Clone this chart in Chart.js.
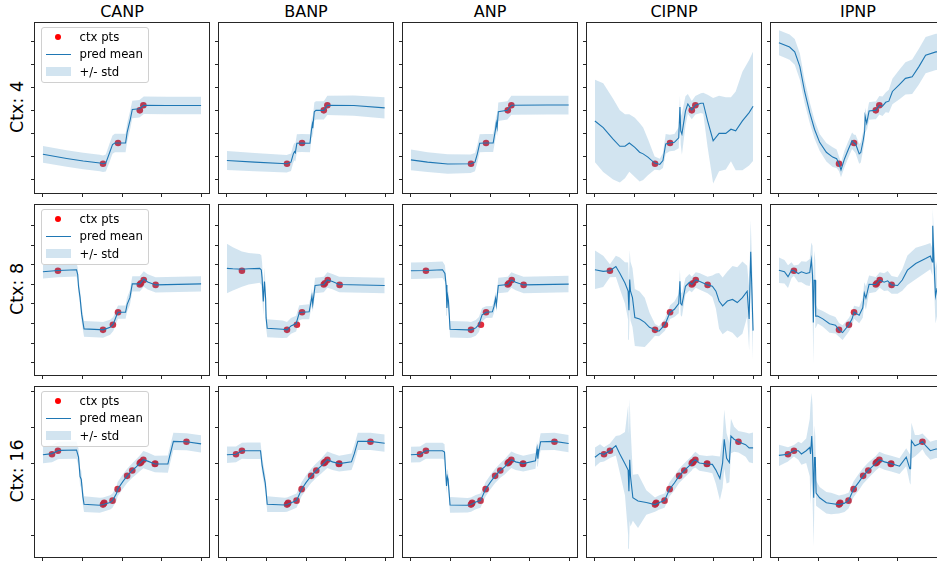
<!DOCTYPE html>
<html>
<head>
<meta charset="utf-8">
<script src="https://cdn.jsdelivr.net/npm/chart.js@4.4.1/dist/chart.umd.min.js"></script>
<style>
  body { margin: 0; width: 937px; height: 561px; overflow: hidden; background: #fff; position: relative; font-family: "DejaVu Sans", sans-serif; }
  canvas { position: absolute; }
  .title { position: absolute; width: 174px; text-align: center; font-size: 16px; line-height: 16px; color: #000; }
  .rowlab { position: absolute; font-size: 17.5px; line-height: 17.5px; white-space: nowrap; color: #000; transform: translate(-50%, -50%) rotate(-90deg); }
  .legend { position: absolute; width: 106px; height: 54px; border: 1px solid #d0d0d0; border-radius: 3px; background: rgba(255,255,255,0.8); font-size: 11.7px; line-height: 12px; }
  .legend span { position: absolute; }
</style>
</head>
<body>
<script>
// column titles, row labels, ticks
const models = ['CANP', 'BANP', 'ANP', 'CIPNP', 'IPNP'];
const rowNames = ['Ctx: 4', 'Ctx: 8', 'Ctx: 16'];
const xTicks = [-2, -1, 0, 1, 2];
const yTicks4 = [-3, -2, -1, 0, 1, 2, 3];
const yTicks8 = [-3, -2, -1, 0, 1, 2, 3, 4];
const yTicks16 = [-2, -1, 0, 1, 2];

// context points per row
const ctx4X = [-0.48, -0.10, 0.45, 0.54];
const ctx4Y = [-2.33, -1.43, -0.01, 0.21];
const ctx8X = [-1.62, -0.48, -0.23, -0.10, 0.45, 0.48, 0.55, 0.85];
const ctx8Y = [1.69, -1.32, -1.06, -0.42, 0.99, 1.05, 1.22, 0.97];
const ctx16X = [-1.77, -1.62, -0.48, -0.46, -0.45, -0.24, -0.11, 0.13, 0.26, 0.45, 0.47, 0.49, 0.54, 0.83, 0.84, 1.63];
const ctx16Y = [0.25, 0.35, -1.15, -1.12, -1.10, -1.04, -0.72, -0.35, -0.20, 0.0, 0.02, 0.04, 0.10, -0.02, -0.01, 0.60];

// predictions: [x, mean, std]
const canp4 = [[-2.0,-1.92,.36],[-1.4,-2.10,.36],[-0.98,-2.21,.36],[-0.56,-2.30,.36],[-0.48,-2.33,.36],[-0.41,-2.30,.37],[-0.31,-1.83,.4],[-0.24,-1.50,.4],[-0.18,-1.43,.4],[0.09,-1.43,.4],[0.13,-0.97,.4],[0.18,-0.61,.4],[0.21,-0.40,.4],[0.26,0.03,.38],[0.44,0.06,.38],[0.55,0.21,.38],[1.12,0.20,.38],[2.0,0.20,.38]];
const banp4 = [[-2.0,-2.19,.41],[-1.3,-2.26,.4],[-0.49,-2.33,.38],[-0.38,-2.26,.38],[-0.32,-1.90,.38],[-0.29,-1.80,.38],[-0.27,-1.85,.38],[-0.23,-1.44,.39],[-0.11,-1.43,.39],[0.10,-1.44,.39],[0.14,-0.83,.39],[0.16,-0.62,.39],[0.17,-0.78,.39],[0.21,-0.07,.4],[0.25,-0.01,.4],[0.45,-0.01,.4],[0.54,0.21,.42],[1.21,0.20,.44],[1.99,0.10,.46]];
const anp4 = [[-2.0,-2.16,.45],[-1.58,-2.26,.43],[-1.07,-2.34,.42],[-0.49,-2.33,.4],[-0.38,-2.26,.4],[-0.32,-1.90,.39],[-0.26,-1.44,.39],[-0.11,-1.43,.39],[0.08,-1.43,.39],[0.14,-0.83,.39],[0.16,-0.55,.39],[0.18,-0.75,.39],[0.21,-0.07,.4],[0.44,-0.01,.4],[0.54,0.21,.41],[1.44,0.22,.41],[1.99,0.22,.41]];
const cipnp4 = [[-2.0,-0.47,1.79],[-1.79,-0.76,1.93],[-1.54,-1.26,1.75],[-1.37,-1.57,1.57],[-1.24,-1.57,1.39],[-1.13,-1.43,1.25],[-0.99,-1.62,1.29],[-0.87,-1.83,1.27],[-0.78,-1.90,1.14],[-0.66,-2.04,0.79],[-0.49,-2.30,0.29],[-0.36,-2.36,0.25],[-0.28,-2.19,0.32],[-0.21,-1.47,0.43],[-0.11,-1.43,0.36],[0.01,-1.40,0.36],[0.12,-1.20,0.46],[0.15,0.13,0.5],[0.17,-0.9,0.6],[0.20,-1.04,0.9],[0.29,-0.04,0.64],[0.35,0.27,0.43],[0.45,0.0,0.4],[0.54,0.21,0.4],[0.68,0.30,0.43],[0.74,0.30,0.46],[0.85,-0.47,1.14],[0.99,-1.33,1.86],[1.14,-1.01,1.64],[1.31,-1.01,1.57],[1.44,-0.83,1.39],[1.56,-0.90,1.71],[1.73,-0.47,2.14],[1.90,-0.11,2.29],[2.0,0.17,2.37]];
const ipnp4 = [[-2.0,2.93,.54],[-1.73,2.74,.55],[-1.60,2.53,.56],[-1.47,1.89,.57],[-1.35,0.81,.5],[-1.22,-0.11,.45],[-1.10,-0.83,.4],[-0.97,-1.40,.36],[-0.80,-1.83,.4],[-0.64,-2.04,.43],[-0.54,-2.11,.4],[-0.48,-2.33,.32],[-0.43,-2.60,.32],[-0.34,-2.11,.36],[-0.24,-1.69,.36],[-0.15,-1.33,.36],[-0.10,-1.43,.36],[-0.06,-1.47,.4],[0.03,-1.90,.43],[0.07,-1.84,.43],[0.13,-1.33,.4],[0.17,-0.90,.38],[0.18,-0.26,.36],[0.22,-0.56,.36],[0.28,-0.04,.38],[0.41,-0.01,.39],[0.45,-0.01,.39],[0.54,0.21,.4],[0.62,0.17,.42],[0.70,0.34,.43],[0.78,0.39,.5],[0.87,0.81,.55],[1.04,1.10,.64],[1.20,1.38,.7],[1.37,1.45,.75],[1.54,1.89,.78],[1.71,2.39,.79],[1.97,2.53,.79],[2.0,2.53,.79]];

const canp8 = [[-2.0,1.64,.34],[-1.62,1.70,.34],[-1.15,1.74,.34],[-1.12,1.5,.36],[-1.10,0.90,.38],[-1.06,0.32,.4],[-1.02,-0.52,.4],[-0.96,-1.27,.4],[-0.56,-1.31,.4],[-0.48,-1.32,.4],[-0.30,-1.19,.38],[-0.22,-1.02,.36],[-0.14,-0.60,.35],[-0.10,-0.42,.34],[0.09,-0.42,.34],[0.13,-0.02,.36],[0.20,0.32,.38],[0.26,1.02,.39],[0.45,1.02,.39],[0.55,1.27,.39],[0.65,1.12,.39],[0.85,0.97,.39],[2.0,1.02,.39]];
const banp8 = [[-2.0,1.81,1.26],[-1.85,1.79,1.1],[-1.62,1.77,0.9],[-1.45,1.79,0.8],[-1.17,1.81,0.73],[-1.13,1.73,0.75],[-1.11,1.31,0.8],[-1.08,0.13,0.7],[-1.05,1.14,0.7],[-1.02,0.23,0.6],[-1.01,-0.70,0.5],[-0.98,-1.24,0.46],[-0.59,-1.29,0.45],[-0.48,-1.32,0.4],[-0.38,-1.12,0.4],[-0.25,-1.0,0.4],[-0.17,-0.45,0.38],[-0.10,-0.42,0.36],[0.08,-0.40,0.38],[0.12,0.04,0.39],[0.15,0.39,0.39],[0.17,-0.02,0.39],[0.23,0.94,0.4],[0.45,0.99,0.39],[0.54,1.22,0.39],[0.67,1.14,0.39],[0.84,0.99,0.39],[1.99,0.94,0.39]];
const anp8 = [[-2.0,1.69,.42],[-1.63,1.70,.42],[-1.20,1.74,.42],[-1.14,1.55,.42],[-1.11,0.96,.42],[-1.09,-0.20,.4],[-1.07,0.40,.4],[-1.05,0.15,.42],[-1.01,-1.29,.42],[-0.57,-1.32,.42],[-0.48,-1.32,.4],[-0.36,-1.22,.4],[-0.28,-1.05,.38],[-0.20,-0.55,.34],[-0.10,-0.42,.3],[0.06,-0.40,.3],[0.10,-0.14,.32],[0.14,0.28,.35],[0.16,-0.05,.35],[0.21,0.94,.4],[0.45,0.99,.4],[0.54,1.22,.4],[0.65,1.11,.41],[0.85,0.97,.42],[1.99,1.01,.42]];
const cipnp8 = [[-2.0,1.74,0.98],[-1.79,1.66,0.8],[-1.62,1.69,0.33],[-1.47,1.91,0.54],[-1.37,1.56,0.8],[-1.24,1.07,1.05],[-1.16,0.65,1.46],[-1.14,-0.32,1.5],[-1.12,1.24,1.5],[-1.10,0.65,1.5],[-1.05,0.32,1.5],[-0.99,-0.69,1.45],[-0.87,-0.77,1.4],[-0.74,-0.94,1.26],[-0.62,-1.19,0.75],[-0.48,-1.32,0.3],[-0.38,-1.39,0.25],[-0.23,-1.06,0.3],[-0.10,-0.42,0.35],[0.01,-0.27,0.4],[0.12,0.02,0.5],[0.15,1.16,0.6],[0.17,0.02,0.6],[0.20,-0.05,0.6],[0.29,0.90,0.42],[0.39,1.10,0.42],[0.45,0.99,0.4],[0.55,1.22,0.4],[0.64,1.16,0.42],[0.85,0.97,0.42],[0.97,0.90,0.55],[1.06,0.65,0.9],[1.14,0.15,1.42],[1.23,-0.10,1.45],[1.35,0.15,1.5],[1.48,0.23,1.7],[1.60,0.07,1.8],[1.73,0.32,1.84],[1.85,0.65,1.3],[1.90,-0.77,1.6],[1.94,2.66,1.6],[2.0,-1.36,1.6]];
const ipnp8 = [[-2.0,1.72,0.65],[-1.86,1.64,0.6],[-1.77,1.39,0.58],[-1.68,1.72,0.4],[-1.62,1.69,0.27],[-1.51,1.55,0.45],[-1.43,1.64,0.54],[-1.31,1.55,0.6],[-1.22,1.60,0.69],[-1.18,2.23,0.9],[-1.15,1.47,1.5],[-1.13,-0.95,2.1],[-1.11,1.21,1.5],[-1.08,1.21,1.0],[-1.07,-0.62,0.6],[-1.02,-0.62,0.38],[-0.89,-0.76,0.4],[-0.72,-1.01,0.46],[-0.57,-1.08,0.42],[-0.48,-1.32,0.35],[-0.39,-1.46,0.38],[-0.23,-1.06,0.35],[-0.15,-0.76,0.35],[-0.10,-0.42,0.33],[0.03,-0.57,0.42],[0.12,-0.20,0.5],[0.16,0.55,0.55],[0.20,0.30,0.6],[0.28,1.0,0.45],[0.45,0.99,0.38],[0.55,1.22,0.4],[0.66,1.11,0.45],[0.75,1.18,0.5],[0.85,0.97,0.45],[1.0,0.94,0.42],[1.12,1.22,0.55],[1.25,1.72,0.75],[1.46,2.06,0.8],[1.71,2.31,0.71],[1.83,2.44,0.67],[1.88,2.14,0.7],[1.89,3.98,0.9],[1.92,2.2,1.2],[1.96,0.4,1.4],[2.0,0.8,1.4]];

const canp16 = [[-2.0,0.24,.24],[-1.77,0.27,.24],[-1.62,0.35,.24],[-1.57,0.36,.24],[-1.15,0.37,.24],[-1.10,0.17,.24],[-1.06,-0.37,.24],[-1.03,-0.45,.24],[-0.99,-0.92,.23],[-0.96,-1.14,.22],[-0.56,-1.17,.21],[-0.48,-1.15,.2],[-0.30,-1.09,.2],[-0.24,-1.04,.2],[-0.14,-0.84,.2],[-0.11,-0.72,.2],[0.02,-0.51,.2],[0.13,-0.35,.2],[0.26,-0.20,.2],[0.36,-0.10,.21],[0.45,0.0,.22],[0.54,0.10,.24],[0.65,0.06,.24],[0.83,-0.02,.23],[1.16,-0.02,.24],[1.20,0.17,.24],[1.30,0.61,.24],[1.63,0.60,.24],[2.0,0.54,.24]];
const banp16 = [[-2.0,0.24,.23],[-1.77,0.25,.22],[-1.62,0.35,.22],[-1.47,0.35,.23],[-1.15,0.35,.23],[-1.11,-0.05,.23],[-1.06,-0.37,.23],[-1.03,-0.55,.23],[-0.98,-1.14,.22],[-0.54,-1.16,.2],[-0.48,-1.15,.2],[-0.33,-1.08,.2],[-0.24,-1.04,.2],[-0.17,-0.87,.2],[-0.11,-0.72,.2],[0.0,-0.54,.2],[0.13,-0.35,.2],[0.26,-0.20,.2],[0.38,-0.08,.21],[0.45,0.0,.22],[0.54,0.10,.23],[0.67,0.04,.23],[0.84,-0.01,.22],[1.15,0.04,.23],[1.22,0.26,.24],[1.31,0.61,.24],[1.63,0.61,.24],[1.99,0.56,.24]];
const anp16 = [[-2.0,0.24,.22],[-1.77,0.25,.22],[-1.62,0.35,.22],[-1.20,0.35,.22],[-1.15,0.31,.22],[-1.13,-0.08,.22],[-1.10,-0.63,.22],[-1.08,-0.37,.22],[-1.06,-0.45,.22],[-1.01,-1.16,.22],[-0.57,-1.17,.2],[-0.48,-1.15,.2],[-0.36,-1.08,.2],[-0.24,-1.04,.2],[-0.11,-0.72,.2],[0.02,-0.51,.2],[0.13,-0.35,.2],[0.26,-0.20,.2],[0.37,-0.10,.21],[0.45,0.0,.22],[0.54,0.10,.23],[0.65,0.04,.23],[0.84,-0.01,.22],[1.15,0.07,.22],[1.19,0.40,.22],[1.21,0.13,.22],[1.23,0.32,.23],[1.28,0.60,.24],[1.63,0.61,.24],[1.99,0.55,.24]];
const cipnp16 = [[-2.0,0.17,.27],[-1.87,0.28,.25],[-1.77,0.25,.2],[-1.62,0.35,.2],[-1.47,0.49,.27],[-1.37,0.26,.52],[-1.24,-0.01,.88],[-1.16,-0.19,1.8],[-1.14,-0.78,1.6],[-1.12,0.10,1.7],[-1.10,-0.36,1.4],[-1.04,-0.96,0.64],[-0.91,-1.05,0.75],[-0.70,-1.09,0.34],[-0.48,-1.15,0.2],[-0.37,-1.09,0.2],[-0.24,-1.04,0.2],[-0.11,-0.72,0.2],[0.01,-0.55,0.2],[0.13,-0.35,0.2],[0.26,-0.20,0.2],[0.45,0.0,0.2],[0.47,0.04,0.2],[0.54,0.10,0.22],[0.64,0.01,0.22],[0.83,-0.02,0.22],[0.97,-0.03,0.25],[1.06,-0.19,0.39],[1.16,-0.42,0.61],[1.23,0.02,0.7],[1.27,0.67,0.82],[1.33,0.14,0.7],[1.40,0.02,0.55],[1.44,0.76,0.48],[1.52,0.67,0.35],[1.63,0.60,0.3],[1.81,0.52,0.34],[1.90,0.43,0.4],[2.0,0.43,0.43]];
const ipnp16 = [[-2.0,0.22,.3],[-1.77,0.25,.2],[-1.62,0.35,.16],[-1.51,0.35,.25],[-1.43,0.26,.3],[-1.31,0.35,.34],[-1.22,0.44,.8],[-1.20,0.26,1.4],[-1.17,0.76,1.2],[-1.15,0.3,1.3],[-1.12,-0.96,1.35],[-1.10,0.16,0.9],[-1.08,0.16,0.6],[-1.06,-0.83,0.35],[-0.97,-0.96,0.3],[-0.80,-1.10,0.3],[-0.68,-1.12,0.3],[-0.48,-1.15,0.25],[-0.34,-1.11,0.25],[-0.24,-1.04,0.22],[-0.11,-0.72,0.22],[0.03,-0.51,0.23],[0.13,-0.35,0.22],[0.26,-0.20,0.22],[0.45,0.0,0.2],[0.54,0.10,0.22],[0.67,0.04,0.22],[0.84,-0.01,0.22],[1.05,-0.08,0.22],[1.22,0.17,0.25],[1.31,-0.15,0.4],[1.33,-0.15,0.45],[1.35,0.63,0.5],[1.44,0.49,0.3],[1.54,0.54,0.25],[1.63,0.61,0.22],[1.71,0.49,0.25],[1.83,0.35,0.25],[1.97,0.40,0.25],[2.0,0.40,0.25]];

// row setup built from the arrays above
const rows = [
  { ctxX: ctx4X, ctxY: ctx4Y, yMin: -3.6, yMax: 3.785, yTicks: yTicks4, panels: [canp4, banp4, anp4, cipnp4, ipnp4] },
  { ctxX: ctx8X, ctxY: ctx8Y, yMin: -3.62, yMax: 5.04, yTicks: yTicks8, panels: [canp8, banp8, anp8, cipnp8, ipnp8] },
  { ctxX: ctx16X, ctxY: ctx16Y, yMin: -2.61, yMax: 2.125, yTicks: yTicks16, panels: [canp16, banp16, anp16, cipnp16, ipnp16] }
];

const BLUE = '#1f77b4';
const panelLefts = [35, 219, 403, 587, 771];
const panelTops = [21, 203, 385];
const PW = 174, PH = 172;

// box around the plot area, like matplotlib spines
const framePlugin = {
  id: 'frame',
  afterDraw(chart) {
    const a = chart.chartArea, c = chart.ctx;
    c.save();
    c.strokeStyle = '#262626';
    c.lineWidth = 1;
    c.strokeRect(a.left - 0.5, a.top - 0.5, a.right - a.left + 1, a.bottom - a.top + 1);
    c.restore();
  }
};

function tickAxis(min, max, values, isX) {
  return {
    type: 'linear',
    min: min,
    max: max,
    afterBuildTicks: s => { s.ticks = values.map(v => ({ value: v })); },
    afterFit: s => { if (isX) s.height = 10; else s.width = 10; },
    ticks: { display: false },
    grid: { drawOnChartArea: false, drawTicks: true, tickLength: 4, color: '#262626', lineWidth: 1 },
    border: { display: false }
  };
}

function addText(cls, text, left, top) {
  const d = document.createElement('div');
  d.className = cls;
  d.textContent = text;
  d.style.left = left + 'px';
  d.style.top = top + 'px';
  document.body.appendChild(d);
}

function addLegend(left, top) {
  const box = document.createElement('div');
  box.className = 'legend';
  box.style.left = left + 'px';
  box.style.top = top + 'px';
  box.innerHTML =
    '<span style="left:12.5px;top:5.5px;width:6.6px;height:6.6px;border-radius:50%;background:#f00"></span>' +
    '<span style="left:37.5px;top:3px">ctx pts</span>' +
    '<span style="left:4px;top:25.5px;width:24.5px;height:1.2px;background:' + BLUE + '"></span>' +
    '<span style="left:37.5px;top:20.3px">pred mean</span>' +
    '<span style="left:4px;top:38.5px;width:24.5px;height:9.3px;background:rgba(31,119,180,0.2)"></span>' +
    '<span style="left:37.5px;top:37.6px">+/- std</span>';
  document.body.appendChild(box);
}

models.forEach((m, c) => addText('title', m, panelLefts[c], 4));

rows.forEach((row, r) => {
  addText('rowlab', rowNames[r], 18, panelTops[r] + PH / 2);
  const ctxPts = row.ctxX.map((x, i) => ({ x: x, y: row.ctxY[i] }));

  row.panels.forEach((pred, c) => {
    const cv = document.createElement('canvas');
    cv.width = PW + 14;
    cv.height = PH + 12;
    cv.style.left = (panelLefts[c] - 10) + 'px';
    cv.style.top = (panelTops[r] - 2) + 'px';
    document.body.appendChild(cv);

    const lower = pred.map(p => ({ x: p[0], y: p[1] - p[2] }));
    const upper = pred.map(p => ({ x: p[0], y: p[1] + p[2] }));
    const mean = pred.map(p => ({ x: p[0], y: p[1] }));

    new Chart(cv, {
      type: 'line',
      data: {
        datasets: [
          { data: lower, borderColor: 'rgba(0,0,0,0)', borderWidth: 0, pointRadius: 0, fill: false },
          { data: upper, borderColor: 'rgba(0,0,0,0)', borderWidth: 0, pointRadius: 0, fill: '-1', backgroundColor: 'rgba(31,119,180,0.2)' },
          { data: mean, borderColor: BLUE, borderWidth: 1.1, pointRadius: 0, fill: false },
          { data: ctxPts, showLine: false, pointRadius: 3.3, pointBackgroundColor: 'rgba(225,20,35,0.9)', pointBorderWidth: 0, fill: false }
        ]
      },
      options: {
        responsive: false,
        animation: false,
        devicePixelRatio: 1,
        layout: { padding: { top: 2, right: 4, left: 0, bottom: 0 } },
        plugins: { legend: { display: false }, tooltip: { enabled: false } },
        scales: {
          x: tickAxis(-2.2, 2.2, xTicks, true),
          y: tickAxis(row.yMin, row.yMax, row.yTicks, false)
        }
      },
      plugins: [framePlugin]
    });
  });

  addLegend(panelLefts[0] + 6, panelTops[r] + 6);
});
</script>
</body>
</html>
